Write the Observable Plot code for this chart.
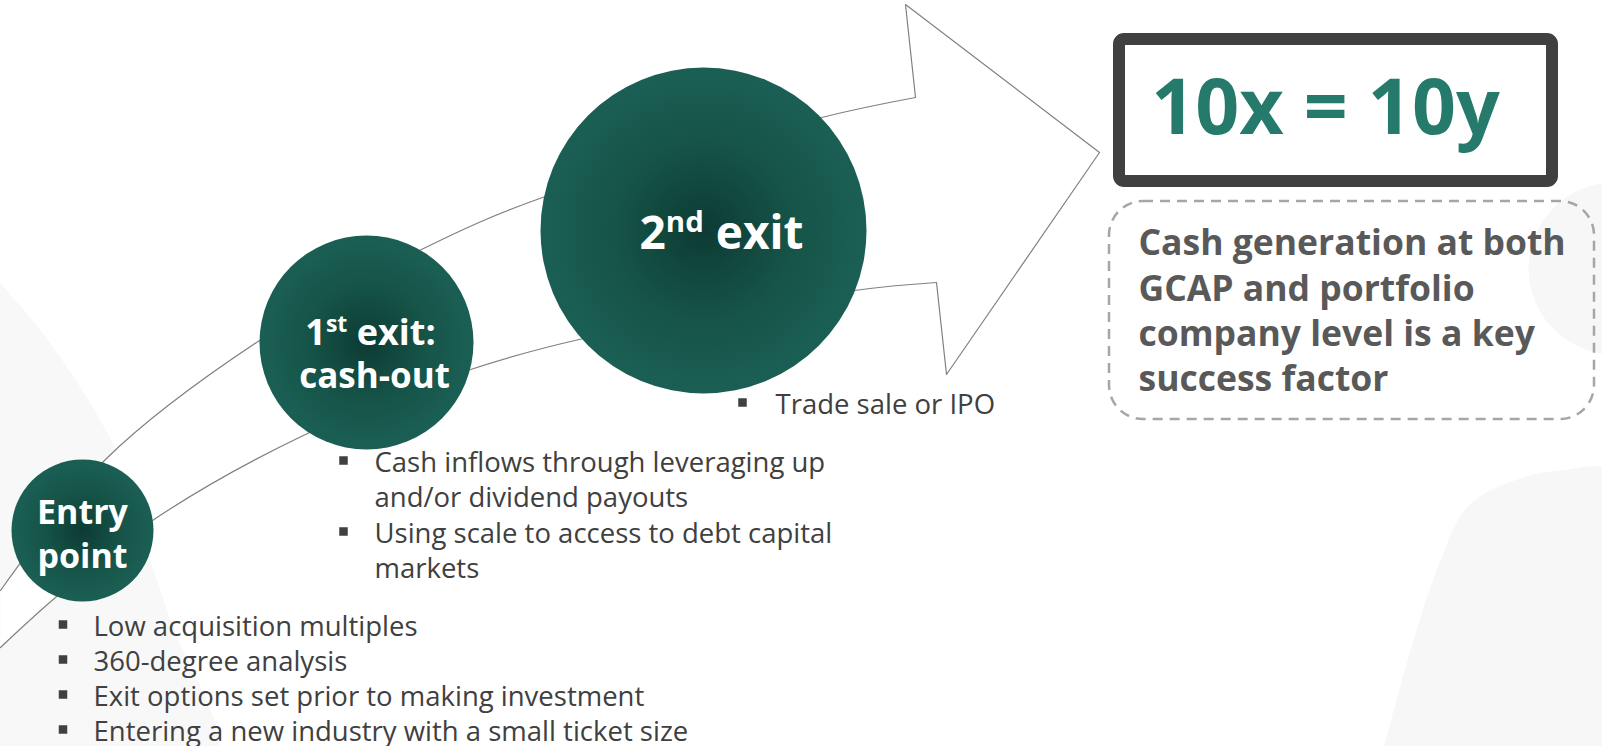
<!DOCTYPE html>
<html>
<head>
<meta charset="utf-8">
<script src="https://cdn.jsdelivr.net/npm/d3@7"></script>
<script src="https://cdn.jsdelivr.net/npm/@observablehq/plot@0.6"></script>
<style>
  html, body { margin: 0; padding: 0; background: #ffffff; overflow: hidden; }
  #chart svg { display: block; }
</style>
</head>
<body>
<div id="chart"></div>
<script>
// ---------- data ----------
// stage circles (diagram units = px of the 1602x746 slide)
const stageNames = ["Entry point", "1st exit: cash-out", "2nd exit"];
const stageX = [82, 366, 703];
const stageY = [530, 342, 230];
const stageR = [71, 107, 163];

// stage label lines (baseline positions)
const labelText = ["Entry", "point", "1st exit:", "cash-out", "2nd exit"];
const labelX = [82, 82, 370, 374, 721];
const labelY = [523, 567, 344, 387, 248];
const labelSize = [34, 34, 36, 35, 46];

// arrow outline
const upperX = [0, 105, 259, 421, 542, 821, 915];
const upperY = [590, 459, 340, 249, 197, 117, 97];
const headX = [915, 905, 1099, 946, 936];
const headY = [97, 4, 152, 374, 282];
const lowerX = [936, 854, 583, 467, 307, 152, 55, 0];
const lowerY = [282, 290, 338, 370, 433, 520, 597, 647];

// bullet lists
const entryBullets = ["Low acquisition multiples", "360-degree analysis", "Exit options set prior to making investment", "Entering a new industry with a small ticket size"];
const entryBaseline = [635, 670, 705, 740];
const cashLines = ["Cash inflows through leveraging up", "and/or dividend payouts", "Using scale to access to debt capital", "markets"];
const cashBullet = [true, false, true, false];
const cashBaseline = [471, 506, 542, 577];
const exitBullets = ["Trade sale or IPO"];
const exitBaseline = [413];

// right panel
const headline = "10x = 10y";
const keyLines = ["Cash generation at both", "GCAP and portfolio", "company level is a key", "success factor"];
const keyBaseline = [254, 300, 345, 390];

// faint background shapes
const blobLeftX = [-10, 40, 85, 120, 140, 170, 215, -10];
const blobLeftY = [272, 330, 395, 460, 530, 620, 760, 760];
const blobRightX = [1380, 1410, 1440, 1468, 1520, 1560, 1612, 1612];
const blobRightY = [760, 650, 560, 505, 478, 470, 472, 760];

// ---------- build tables ----------
const pts = (xs, ys) => xs.map((x, i) => ({x, y: ys[i]}));
const stages = stageNames.map((n, i) => ({name: n, x: stageX[i], y: stageY[i], r: stageR[i]}));
const labels = labelText.map((t, i) => ({t, x: labelX[i], y: labelY[i], s: labelSize[i]}));
const outline = [...pts(upperX, upperY), ...pts(headX, headY).slice(1), ...pts(lowerX, lowerY).slice(1)];
const entryRows = entryBullets.map((t, i) => ({t, x: 93, y: entryBaseline[i], bx: 62.5}));
const cashRows = cashLines.map((t, i) => ({t, x: 374, y: cashBaseline[i], bx: 343, b: cashBullet[i]}));
const exitRows = exitBullets.map((t, i) => ({t, x: 775, y: exitBaseline[i], bx: 742}));
const bulletRows = [...entryRows, ...cashRows.filter(d => d.b), ...exitRows];
const keyRows = keyLines.map((t, i) => ({t, x: 1138, y: keyBaseline[i]}));

const FONT = "'Open Sans', 'Noto Sans', sans-serif";

const chart = Plot.plot({
  width: 1602,
  height: 746,
  margin: 0,
  x: {domain: [0, 1602], range: [0, 1602], axis: null},
  y: {domain: [0, 746], range: [0, 746], axis: null},
  r: {type: "identity"},
  style: {fontFamily: FONT, background: "#ffffff"},
  marks: [
    // background blobs
    Plot.line(pts(blobLeftX, blobLeftY), {x: "x", y: "y", fill: "#f8f8f8", stroke: "none", curve: "catmull-rom"}),
    Plot.line(pts(blobRightX, blobRightY), {x: "x", y: "y", fill: "#f7f7f7", stroke: "none", curve: "catmull-rom"}),
    Plot.dot([{x: 1614, y: 268}], {x: "x", y: "y", r: 86, fill: "#f7f7f7", stroke: "none"}),
    // arrow body (white fill)
    Plot.line(outline, {x: "x", y: "y", fill: "#ffffff", stroke: "none", curve: "linear"}),
    // arrow edges
    Plot.line(pts(upperX, upperY), {x: "x", y: "y", stroke: "#808080", strokeWidth: 1.2, curve: "catmull-rom"}),
    Plot.line(pts(lowerX, lowerY), {x: "x", y: "y", stroke: "#808080", strokeWidth: 1.2, curve: "catmull-rom"}),
    Plot.line(pts(headX, headY), {x: "x", y: "y", stroke: "#808080", strokeWidth: 1.2, curve: "linear"}),
    // stage circles
    Plot.dot(stages, {x: "x", y: "y", r: "r", fill: "url(#stageGrad)", stroke: "none"}),
    // stage labels
    Plot.text(labels, {x: "x", y: "y", text: "t", fontSize: "s", lineAnchor: "bottom", textAnchor: "middle",
      fill: "#ffffff", fontWeight: "bold", fontFamily: FONT}),
    // bullets
    Plot.dot(bulletRows, {x: "bx", y: d => d.y - 11, symbol: "square", r: 4.8, fill: "#404040", stroke: "none"}),
    Plot.text([...entryRows, ...cashRows, ...exitRows], {x: "x", y: "y", text: "t", fontSize: 27.5, lineAnchor: "bottom",
      textAnchor: "start", fill: "#404040", fontFamily: FONT}),
    // headline box
    Plot.rect([{x1: 1119, x2: 1552, y1: 39, y2: 181}], {x1: "x1", x2: "x2", y1: "y1", y2: "y2",
      fill: "#ffffff", stroke: "#404040", strokeWidth: 12, rx: 5, strokeLinejoin: "round"}),
    Plot.text([headline], {x: 1325, y: 133, text: d => d, fontSize: 77, fontWeight: "bold",
      lineAnchor: "bottom", textAnchor: "middle", fill: "#267a6b", fontFamily: FONT}),
    // dashed key-factor box
    Plot.rect([{x1: 1109, x2: 1594, y1: 201, y2: 419}], {x1: "x1", x2: "x2", y1: "y1", y2: "y2",
      fill: "none", stroke: "#a6a6a6", strokeWidth: 2.5, strokeDasharray: "10,7", rx: 34}),
    Plot.text(keyRows, {x: "x", y: "y", text: "t", fontSize: 35.5, fontWeight: "bold", lineAnchor: "bottom",
      textAnchor: "start", fill: "#595959", fontFamily: FONT})
  ]
});

// radial gradient for the stage circles
const svg = d3.select(chart);
const defs = svg.insert("defs", ":first-child");
const grad = defs.append("radialGradient").attr("id", "stageGrad").attr("cx", "50%").attr("cy", "50%").attr("r", "50%");
grad.append("stop").attr("offset", "0%").attr("stop-color", "#0d3b33");
grad.append("stop").attr("offset", "55%").attr("stop-color", "#165448");
grad.append("stop").attr("offset", "100%").attr("stop-color", "#1b5f54");

// superscript ordinals (1st, 2nd)
const NS = "http://www.w3.org/2000/svg";
chart.querySelectorAll("text").forEach(t => {
  const m = t.textContent.match(/^(\d)(st|nd|rd|th)(\s.*)$/);
  if (!m) return;
  const fs = parseFloat(t.getAttribute("font-size")) || 36;
  t.textContent = "";
  const a = document.createElementNS(NS, "tspan"); a.textContent = m[1];
  const b = document.createElementNS(NS, "tspan"); b.textContent = m[2];
  b.setAttribute("font-size", (fs * 0.64).toFixed(1)); b.setAttribute("dy", (-fs * 0.36).toFixed(1));
  const c = document.createElementNS(NS, "tspan"); c.textContent = m[3];
  c.setAttribute("dy", (fs * 0.36).toFixed(1));
  t.append(a, b, c);
});

document.getElementById("chart").append(chart);
</script>
</body>
</html>
